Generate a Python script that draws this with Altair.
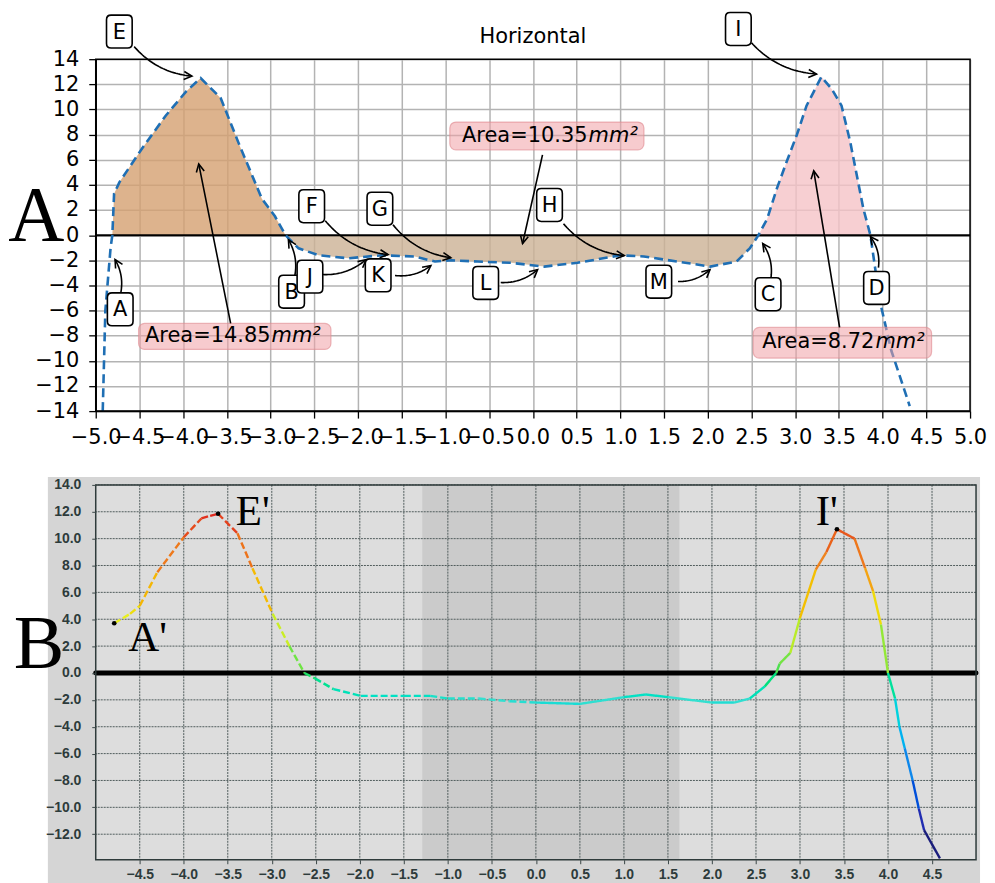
import math
import numpy as np
import pandas as pd
import altair as alt

# ---------------- Panel A (top) : profile ----------------
top_x = [-4.92, -4.89, -4.83, -4.81, -4.79, -4.73, -4.47, -4.20, -3.97, -3.80,
         -3.57, -3.37, -3.10, -2.95, -2.83, -2.68, -2.45, -2.11, -1.73, -1.35,
         -1.12, -0.93, -0.63, -0.25, 0.13, 0.51, 1.00, 1.27, 1.65, 2.03,
         2.33, 2.48, 2.58, 2.68, 2.79, 2.90, 3.02, 3.13, 3.30, 3.42,
         3.53, 3.63, 3.78, 3.86, 3.97, 4.10, 4.31]
top_y = [-14.0, -6.0, -1.0, 0.0, 3.3, 4.2, 6.9, 9.5, 11.4, 12.5,
         10.9, 7.4, 2.9, 1.5, 0.0, -1.05, -1.6, -1.84, -1.6, -1.7,
         -2.1, -2.0, -2.1, -2.2, -2.5, -2.2, -1.6, -1.7, -2.1, -2.5,
         -2.1, -1.05, 0.0, 1.3, 3.7, 5.8, 8.0, 10.3, 12.6, 11.6,
         10.3, 7.4, 2.1, 0.0, -5.3, -9.2, -13.6]
region_colors = ["#d4a070", "#ccb195", "#f5c3c7"]
title_A = "Horizontal"

# point labels (letters in rounded boxes)
lab_names = ["E", "I", "A", "B", "J", "K", "L", "F", "G", "H", "M", "C", "D"]
lab_x = [-4.73, 2.35, -4.72, -2.76, -2.55, -1.77, -0.54, -2.53, -1.75, 0.19, 1.44, 2.69, 3.93]
lab_y = [16.2, 16.4, -5.9, -4.5, -3.3, -3.2, -3.8, 2.3, 2.1, 2.4, -3.7, -4.7, -4.2]

# arrows: start, end, curvature
arr_sx = [-4.56, 2.50, -4.72, -2.73, -2.42, -2.375, -1.577, -1.60, -0.368, 0.35, 1.66, 2.72, 3.952, -3.457, 0.11, 3.508]
arr_sy = [15.0, 15.3, -4.80, -3.45, -3.13, 1.15, -3.21, 0.83, -3.77, 0.91, -3.69, -3.53, -2.58, -7.02, 6.39, -7.34]
arr_ex = [-3.90, 3.244, -4.779, -2.796, -1.907, -1.657, -1.167, -0.939, 0.054, 1.045, 2.025, 2.629, 3.861, -3.822, -0.118, 3.212]
arr_ey = [12.65, 12.82, -1.94, -0.36, -1.94, -1.55, -2.42, -1.79, -2.74, -1.63, -2.74, -0.67, -0.12, 5.67, -0.67, 5.12]
arr_rad = [0.2, 0.2, 0.2, 0.2, 0.2, 0.2, 0.2, 0.2, 0.2, 0.2, 0.2, 0.2, 0.2, 0.0, 0.0, 0.0]

# area annotations
area_num = ["Area=14.85", "Area=10.35", "Area=8.72"]
area_split_x = [-3.0, 0.626, 3.906]
area_text_y = [-8.06, 7.9, -8.53]
area_box_x1 = [-4.51, -0.95, 2.52]
area_box_x2 = [-2.31, 1.27, 4.56]
area_box_y1 = [-7.02, 9.0, -7.34]
area_box_y2 = [-9.09, 6.79, -9.78]

# ---------------- Panel B (bottom) : measured profile ----------------
bot_x = [-4.79, -4.61, -4.50, -4.30, -4.00, -3.80, -3.70, -3.61, -3.39, -3.22,
         -2.99, -2.80, -2.63, -2.51, -2.30, -1.99, -1.50, -1.20, -1.00, -0.65,
         -0.30, 0.00, 0.50, 1.00, 1.25, 1.50, 2.00, 2.25, 2.43, 2.60,
         2.73, 2.77, 2.89, 3.00, 3.18, 3.30, 3.42, 3.62, 3.74, 3.83,
         3.92, 4.00, 4.08, 4.13, 4.19, 4.28, 4.35, 4.41, 4.59]
bot_y = [3.7, 4.4, 5.0, 7.5, 10.1, 11.5, 11.7, 11.85, 10.4, 7.8,
         4.4, 2.0, 0.0, -0.4, -1.2, -1.7, -1.7, -1.7, -1.9, -1.9,
         -2.1, -2.2, -2.3, -1.8, -1.6, -1.8, -2.2, -2.2, -1.9, -1.0,
         0.0, 0.7, 1.5, 4.1, 7.7, 9.0, 10.7, 10.0, 7.8, 6.1,
         3.6, 0.0, -1.9, -4.0, -5.6, -8.0, -10.1, -11.7, -13.8]
band_x = [-1.29, 1.63]
dot_x = [-4.79, -3.61, 3.42]
dot_y = [3.7, 11.85, 10.7]
tag_names = ["A'", "E'", "I'"]
tag_x = [-4.63, -3.41, 3.18]
tag_y = [1.63, 11.04, 11.04]
cmap_stops = [-14, -10, -6, -2, 0, 4, 8, 12]
cmap_colors = ["#14145a", "#2233cc", "#3399ee", "#33e0d0", "#33dd55", "#e8f020", "#f08a20", "#e02020"]

# ======================= Panel A chart =======================
WA, HA = 877, 353
xsA = alt.Scale(domain=[-5, 5], nice=False, zero=False)
ysA = alt.Scale(domain=[-14, 14], nice=False, zero=False)
MINUS = "\u2212"

xaxA = alt.Axis(values=[-5 + 0.5 * i for i in range(21)], tickCount=50,
                labelExpr="replace(format(datum.value, '.1f'), '-', '" + MINUS + "')",
                labelFont="DejaVu Sans", labelFontSize=21, labelColor="black",
                labelOverlap=False, labelFlush=False, labelPadding=8,
                tickColor="black", tickSize=7, tickWidth=1.3,
                domainColor="black", domainWidth=1.5,
                gridColor="#b3b3b3", gridWidth=1.5, title=None)
yaxA = alt.Axis(values=[-14 + 2 * i for i in range(15)], tickCount=50,
                labelExpr="replace(format(datum.value, 'd'), '-', '" + MINUS + "')",
                labelFont="DejaVu Sans", labelFontSize=21, labelColor="black",
                labelOverlap=False, labelFlush=False, labelPadding=10,
                tickColor="black", tickSize=7, tickWidth=1.3,
                domainColor="black", domainWidth=1.5,
                gridColor="#b3b3b3", gridWidth=1.5, title=None)

prof = pd.DataFrame({"x": top_x, "y": top_y})
zeros = [x for x, y in zip(top_x, top_y) if y == 0]
area_rows = []
for k in range(3):
    for x, y in zip(top_x, top_y):
        if zeros[k] <= x <= zeros[k + 1]:
            area_rows.append({"x": x, "y": y, "region": f"r{k}"})
areas = pd.DataFrame(area_rows)

one = pd.DataFrame({"d": [0]})

fill_layer = alt.Chart(areas).mark_area(opacity=0.8).encode(
    x=alt.X("x:Q", scale=xsA, axis=xaxA),
    y=alt.Y("y:Q", scale=ysA, axis=yaxA),
    y2=alt.Y2("y0:Q"),
    color=alt.Color("region:N", scale=alt.Scale(domain=["r0", "r1", "r2"], range=region_colors), legend=None),
).transform_calculate(y0="0")
zero_A = alt.Chart(one).mark_rule(color="black", strokeWidth=2).encode(
    x=alt.value(0), x2=alt.value(WA), y=alt.Y("d:Q"))
line_A = alt.Chart(prof).mark_line(color="#1f6fb4", strokeWidth=2.6, strokeDash=[9, 5]).encode(
    x="x:Q", y="y:Q")

abox = pd.DataFrame({"x1": area_box_x1, "x2": area_box_x2, "y1": area_box_y1, "y2": area_box_y2})
abox_layer = alt.Chart(abox).mark_rect(cornerRadius=6, fill="#f0a0a6", fillOpacity=0.55,
                                       stroke="#e08890", strokeOpacity=0.6, strokeWidth=1.2).encode(
    x="x1:Q", x2="x2:Q", y="y1:Q", y2="y2:Q")
atext = pd.DataFrame({"t": area_num, "x": area_split_x, "y": area_text_y, "u": ["mm\u00b2"] * 3})
atext_num = alt.Chart(atext).mark_text(font="DejaVu Sans", fontSize=21, align="right",
                                       baseline="middle", color="black").encode(
    x="x:Q", y="y:Q", text="t:N")
atext_unit = alt.Chart(atext).mark_text(font="DejaVu Sans", fontSize=21, fontStyle="italic",
                                        align="left", baseline="middle", color="black", dx=1).encode(
    x="x:Q", y="y:Q", text="u:N")


def to_px(x, y):
    return np.array([(x + 5) / 10 * WA, (14 - y) / 28 * HA])


def to_data(p):
    return p[0] / WA * 10 - 5, 14 - p[1] / HA * 28


line_rows, head_rows = [], []
for k, (sx, sy, ex, ey, rad) in enumerate(zip(arr_sx, arr_sy, arr_ex, arr_ey, arr_rad)):
    S = to_px(sx, sy)
    E = to_px(ex, ey)
    d = E - S
    C = (S + E) / 2 + rad * np.array([-d[1], d[0]])
    for i, t in enumerate(np.linspace(0, 1, 30)):
        P = (1 - t) ** 2 * S + 2 * (1 - t) * t * C + t ** 2 * E
        px, py = to_data(P)
        line_rows.append({"a": k, "o": i, "x": px, "y": py})
    tg = E - C
    head_rows.append({"x": ex, "y": ey, "ang": math.degrees(math.atan2(tg[1], tg[0])) % 360})
arrow_lines = alt.Chart(pd.DataFrame(line_rows)).mark_line(color="black", strokeWidth=1.6).encode(
    x="x:Q", y="y:Q", detail="a:N", order="o:Q")
HEAD = "M-1,-0.5L0,0L-1,0.5"
arrow_heads = alt.Chart(pd.DataFrame(head_rows)).mark_point(
    shape=HEAD, size=256, filled=False, stroke="black", strokeWidth=1.6, opacity=1).encode(
    x="x:Q", y="y:Q", angle=alt.Angle("ang:Q", scale=None))

BOX = ("M-0.5,-1L0.5,-1Q0.78,-1 0.78,-0.72L0.78,0.72Q0.78,1 0.5,1L-0.5,1"
       "Q-0.78,1 -0.78,0.72L-0.78,-0.72Q-0.78,-1 -0.5,-1Z")
labs = pd.DataFrame({"n": lab_names, "x": lab_x, "y": lab_y})
lab_boxes = alt.Chart(labs).mark_point(shape=BOX, size=1089, filled=True, fill="white",
                                       stroke="black", strokeWidth=1.6, opacity=1).encode(
    x="x:Q", y="y:Q")
lab_text = alt.Chart(labs).mark_text(font="DejaVu Sans", fontSize=21, align="center",
                                     baseline="middle", color="black", dy=1).encode(
    x="x:Q", y="y:Q", text="n:N")

bigA = alt.Chart(pd.DataFrame({"t": ["A"], "x": [-6.0], "y": [-0.36]})).mark_text(
    font="Liberation Serif", fontSize=78, align="left", baseline="alphabetic", color="black").encode(
    x="x:Q", y="y:Q", text="t:N")
titleA = alt.Chart(pd.DataFrame({"t": [title_A], "x": [0.0], "y": [15.75]})).mark_text(
    font="DejaVu Sans", fontSize=21, align="center", baseline="middle", color="black").encode(
    x="x:Q", y="y:Q", text="t:N")

frame_A = alt.Chart(one).mark_rect(fillOpacity=0, stroke="black", strokeWidth=1.5).encode(
    x=alt.value(0), x2=alt.value(WA), y=alt.value(0), y2=alt.value(HA))

top = alt.layer(fill_layer, zero_A, line_A, abox_layer, atext_num, atext_unit,
                arrow_lines, arrow_heads, lab_boxes, lab_text, bigA, titleA, frame_A).properties(
    width=WA, height=HA)

# ======================= Panel B chart =======================
WB, HB = 883, 376
xsB = alt.Scale(domain=[-5, 5], nice=False, zero=False)
ysB = alt.Scale(domain=[-13.9, 14], nice=False, zero=False)
xvalsB = [round(-4.5 + 0.5 * i, 1) for i in range(19)]
yvalsB = [-12 + 2 * i for i in range(14)]

xaxB = alt.Axis(values=xvalsB, tickCount=50, format=".1f", labelFont="Liberation Sans", labelFontSize=14,
                labelFontWeight="bold", labelColor="#2d3b3b", labelOverlap=False, labelFlush=False,
                labelPadding=4, tickColor="#3a4646", tickSize=4, domain=False, grid=False,
                title=None, zindex=1)
yaxB = alt.Axis(values=yvalsB, tickCount=50, format=".1f", labelFont="Liberation Sans", labelFontSize=14,
                labelFontWeight="bold", labelColor="#2d3b3b", labelOverlap=False, labelFlush=False,
                labelPadding=11, tickColor="#3a4646", tickSize=4, domain=False, grid=False,
                title=None, zindex=1)

outer_bg = alt.Chart(one).mark_rect(color="#d5d5d5").encode(
    x=alt.value(-48), x2=alt.value(WB + 4), y=alt.value(-8), y2=alt.value(HB + 26))
inner_bg = alt.Chart(one).mark_rect(color="#dddddd").encode(
    x=alt.value(0), x2=alt.value(WB), y=alt.value(0), y2=alt.value(HB))
band = alt.Chart(pd.DataFrame({"x1": [band_x[0]], "x2": [band_x[1]]})).mark_rect(color="#cbcbcb").encode(
    x=alt.X("x1:Q", scale=xsB, axis=xaxB), x2="x2:Q", y=alt.value(0), y2=alt.value(HB))
vgrid = alt.Chart(pd.DataFrame({"v": xvalsB})).mark_rule(color="#505c5c", strokeWidth=1,
                                                         strokeDash=[2, 1]).encode(x="v:Q")
hgrid = alt.Chart(pd.DataFrame({"v": yvalsB})).mark_rule(color="#505c5c", strokeWidth=1,
                                                         strokeDash=[2, 1]).encode(
    y=alt.Y("v:Q", scale=ysB, axis=yaxB))
zero_B = alt.Chart(one).mark_rule(color="black", strokeWidth=5, strokeCap="round").encode(
    x=alt.value(0), x2=alt.value(WB), y=alt.Y("d:Q"))

seg_rows = []
for i in range(len(bot_x) - 1):
    seg_rows.append({"x": bot_x[i], "x2": bot_x[i + 1], "y": bot_y[i], "y2": bot_y[i + 1],
                     "c": (bot_y[i] + bot_y[i + 1]) / 2,
                     "s": "dash" if bot_x[i] < 0 else "solid"})
segs = alt.Chart(pd.DataFrame(seg_rows)).mark_rule(strokeWidth=2.4).encode(
    x="x:Q", x2="x2:Q", y="y:Q", y2="y2:Q",
    color=alt.Color("c:Q", scale=alt.Scale(domain=cmap_stops, range=cmap_colors), legend=None),
    strokeDash=alt.StrokeDash("s:N", scale=alt.Scale(domain=["dash", "solid"], range=[[7, 3], [1, 0]]),
                              legend=None))
dots = alt.Chart(pd.DataFrame({"x": dot_x, "y": dot_y})).mark_circle(color="black", size=22, opacity=1).encode(
    x="x:Q", y="y:Q")
tags = alt.Chart(pd.DataFrame({"t": tag_names, "x": tag_x, "y": tag_y})).mark_text(
    font="Liberation Serif", fontSize=43, align="left", baseline="alphabetic", color="black").encode(
    x="x:Q", y="y:Q", text="t:N")
bigB = alt.Chart(pd.DataFrame({"t": ["B"], "x": [-5.93], "y": [0.37]})).mark_text(
    font="Liberation Serif", fontSize=76, align="left", baseline="alphabetic", color="black").encode(
    x="x:Q", y="y:Q", text="t:N")
frame_B = alt.Chart(one).mark_rect(fillOpacity=0, stroke="#2f3b3b", strokeWidth=1.5).encode(
    x=alt.value(0), x2=alt.value(WB), y=alt.value(0), y2=alt.value(HB))

bottom = alt.layer(outer_bg, inner_bg, band, vgrid, hgrid, zero_B, segs, dots, tags, bigB,
                   frame_B).properties(width=WB, height=HB)

chart = alt.vconcat(top, bottom, spacing=30).properties(padding=0, background="white").configure_view(
    strokeWidth=0).configure_axis(labelOverlap=False)

chart.save("out.html", embed_options={"renderer": "svg", "actions": False})
